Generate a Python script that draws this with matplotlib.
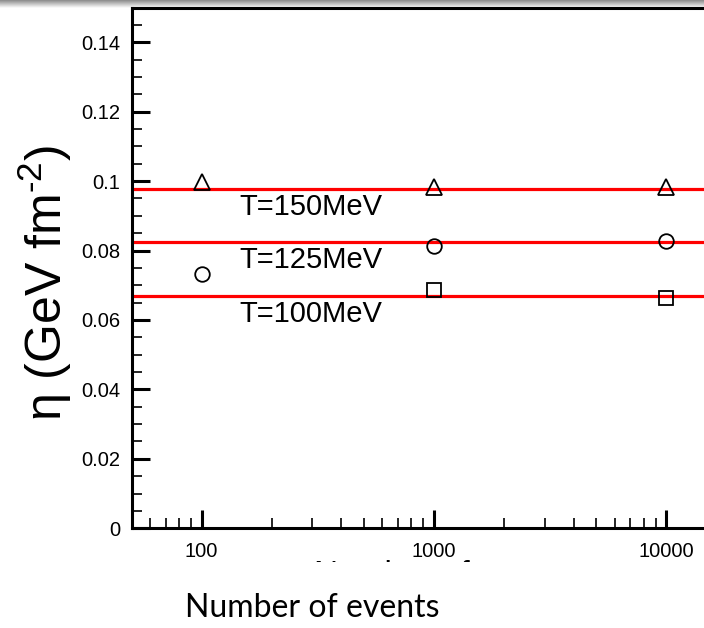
import numpy as np
import matplotlib
matplotlib.use("Agg")
import matplotlib.pyplot as plt
from matplotlib.ticker import FixedLocator, FuncFormatter, MultipleLocator, LogLocator, NullFormatter
from matplotlib.transforms import Bbox

# Shear viscosity estimates vs. number of events, per temperature
events_tri = [100, 1000, 10000]
eta_tri = [0.0996, 0.0983, 0.0984]      # T = 150 MeV
events_circ = [100, 1000, 10000]
eta_circ = [0.0733, 0.0813, 0.0827]     # T = 125 MeV
events_sq = [1000, 10000]
eta_sq = [0.0687, 0.0662]               # T = 100 MeV

# Reference values per temperature (horizontal lines)
ref_eta = [0.0978, 0.0825, 0.0670]
ref_labels = ["T=150MeV", "T=125MeV", "T=100MeV"]
label_y = [0.0903, 0.0749, 0.0595]

y_ticks = [0, 0.02, 0.04, 0.06, 0.08, 0.1, 0.12, 0.14]
x_ticks = [100, 1000, 10000]

plt.rcParams["mathtext.fontset"] = "custom"
plt.rcParams["mathtext.rm"] = "Liberation Sans"
plt.rcParams["mathtext.it"] = "Liberation Sans"

W, H = 704, 628
fig = plt.figure(figsize=(W / 100, H / 100), dpi=100)

# Thin gray gradient band along the top edge
band = fig.add_axes([0, 1 - 8 / H, 1, 8 / H])
grad = np.linspace(0.54, 1.0, 64).reshape(-1, 1)
band.imshow(np.repeat(grad, 4, axis=1), cmap="gray", vmin=0, vmax=1,
            aspect="auto", extent=[0, 1, 1, 0], interpolation="bilinear")
band.set_axis_off()

left = 131.7 / W
bottom = (H - 528.3) / H
height = (528.3 - 7.5) / H
xmin, xmax = 50, 20000
width = np.log10(xmax / xmin) * 232.3 / W
ax = fig.add_axes([left, bottom, width, height])
ax.set_xscale("log")
ax.set_xlim(xmin, xmax)
ax.set_ylim(0, 0.15)

for v in ref_eta:
    ax.axhline(v, color="#ff0000", lw=2.3, zorder=2)

mk = dict(linestyle="none", mfc="none", mec="black", mew=1.3, zorder=3)
ax.plot(events_tri, eta_tri, marker="^", ms=11, **mk)
ax.plot(events_circ, eta_circ, marker="o", ms=10.5, **mk)
ax.plot(events_sq, eta_sq, marker="s", ms=9.5, **mk)

for lab, yv in zip(ref_labels, label_y):
    ax.text(296, yv, lab, ha="center", va="baseline", fontsize=21,
            family="Liberation Sans", color="black")

# Axes frame and ticks
for s in ax.spines.values():
    s.set_linewidth(2.2)
ax.tick_params(which="major", direction="in", length=13, width=2.2,
               labelsize=14.5, pad=8, top=False, right=False)
ax.tick_params(which="minor", direction="in", length=7, width=1.2,
               top=False, right=False)
ax.tick_params(axis="x", which="major", pad=10)
ax.yaxis.set_major_locator(FixedLocator(y_ticks))
ax.yaxis.set_minor_locator(MultipleLocator(0.005))
ax.yaxis.set_major_formatter(FuncFormatter(lambda v, p: "%g" % v))
ax.xaxis.set_major_locator(FixedLocator(x_ticks))
ax.xaxis.set_minor_locator(LogLocator(base=10, subs=np.arange(2, 10)))
ax.xaxis.set_minor_formatter(NullFormatter())
ax.xaxis.set_major_formatter(FuncFormatter(lambda v, p: "%d" % v))
for t in ax.get_xticklabels() + ax.get_yticklabels():
    t.set_family("Liberation Sans")

# Axis titles
fig.text(45 / W, 1 - 283 / H, "η (GeV fm$^{\\mathregular{\u2010 2}}$)",
         rotation=90, ha="center", va="center", fontsize=36,
         family="Liberation Sans")
fig.text(312 / W, 1 - 616.7 / H, "Number of events", ha="center",
         va="baseline", fontsize=23, family="Lato")

# Remnant of an underlying axis caption, only its top edge showing
under = fig.text(314 / W, 1 - 584 / H, "Number of events", ha="left",
                 va="baseline", fontsize=24, family="Liberation Sans")
under.set_clip_box(Bbox.from_extents(0, H - 561.5, W, H - 558))
under.set_clip_on(True)

fig.savefig("out.png", dpi=100)
